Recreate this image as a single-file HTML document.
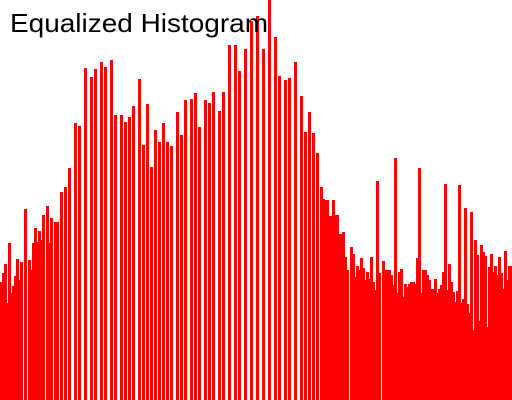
<!DOCTYPE html>
<html><head><meta charset="utf-8"><style>
html,body{margin:0;padding:0;background:#fff;}
svg{display:block;}
</style></head><body>
<svg id="chart" width="512" height="400" viewBox="0 0 512 400" xmlns="http://www.w3.org/2000/svg">
<rect x="0" y="0" width="512" height="400" fill="#ffffff"/>
<g id="bars"></g>
<text x="10" y="32" font-family="Liberation Sans, sans-serif" font-size="26" fill="#000" textLength="258" lengthAdjust="spacingAndGlyphs">Equalized Histogram</text>
</svg>
<script>
const binCounts = [
118,127,136,97,157,107,114,124,141,120,138,0,191,0,140,130,157,172,158,169,160,185,0,194,157,182,0,178,178,0,208,0,213,0,232,0,
0,277,0,274,0,0,332,0,0,323,0,331,0,0,338,0,333,0,0,340,0,285,0,0,285,0,278,0,
283,0,294,0,0,321,0,255,0,296,0,233,0,270,0,258,0,277,0,258,0,254,0,0,288,0,265,0,300,0,0,301,
0,307,0,273,0,0,300,0,297,0,308,0,0,289,0,308,0,0,355,0,0,355,0,329,0,0,351,0,0,379,0,0,
384,0,0,351,0,0,400,0,0,363,0,324,0,0,320,0,322,0,0,338,0,0,304,0,268,0,288,0,267,0,247,0,
213,201,200,200,184,184,200,185,185,166,166,168,143,130,0,153,146,123,134,130,142,132,120,128,121,143,118,110,219,127,0,139,
130,130,130,125,115,242,107,128,131,103,116,113,116,118,118,116,142,232,107,130,130,125,120,111,111,121,107,111,115,128,216,110,
136,118,108,98,109,215,97,101,192,96,87,188,70,160,145,79,155,148,144,73,133,146,128,134,125,143,127,111,149,120,134,134
];
const binCount = 256;
const yMax = 400;
const W = 512, H = 400;
function xScale(i){ return i * W / binCount; }
function yScale(v){ return H - v * H / yMax; }
const g = document.getElementById('bars');
const NS = 'http://www.w3.org/2000/svg';
for (let i = 0; i < binCounts.length; i++) {
  const v = binCounts[i];
  if (v <= 0) continue;
  const r = document.createElementNS(NS, 'rect');
  
  
  const y = yScale(v);
  r.setAttribute('x', xScale(i));
  r.setAttribute('y', y);
  r.setAttribute('width', 3);
  r.setAttribute('height', H - y);
  r.setAttribute('fill', '#ff0000');
  g.appendChild(r);
}
</script>
</body></html>
